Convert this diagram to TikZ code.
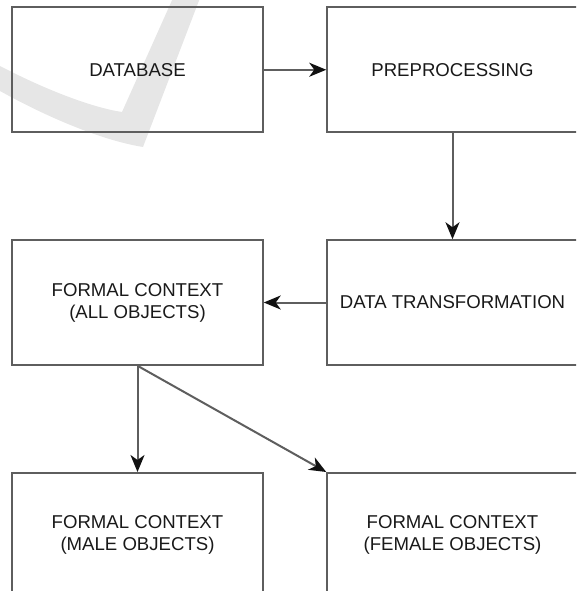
\documentclass[tikz,border=0pt]{standalone}
\usepackage{fontspec}
\setmainfont{Liberation Sans}
\usetikzlibrary{arrows.meta}
\definecolor{edge}{HTML}{5E5E5E}
\definecolor{tipcol}{HTML}{111111}
\definecolor{markgray}{HTML}{E6E6E6}
\begin{document}
\begin{tikzpicture}[x=1pt,y=-1pt,
  stage/.style={draw=edge, line width=2pt, minimum width=250.5pt,
    minimum height=124.5pt, inner sep=0pt, align=center,
    font=\fontsize{18.6}{22}\selectfont, text=black!90},
  flow/.style={draw=edge, line width=2pt,
    -{Stealth[length=17pt,width=14pt,inset=5pt,color=tipcol]}}]
\useasboundingbox (0,0) rectangle (576,591);
\clip (0,0) rectangle (576,591);

% light check-mark shape in the background
\fill[markgray] (0,66) .. controls (50,92) and (95,108) .. (122,112)
  -- (173,-2) -- (200,-2) -- (143,147)
  .. controls (100,140) and (45,116) .. (0,91) -- cycle;

% process stages
\node[stage] (db)     at (137.5,69.75)  {DATABASE};
\node[stage] (pre)    at (452.5,69.75)  {PREPROCESSING};
\node[stage] (fc)     at (137.5,302.5)  {FORMAL CONTEXT\\(ALL OBJECTS)};
\node[stage] (dt)     at (452.5,302.5)  {DATA TRANSFORMATION};
\node[stage] (male)   at (137.5,535.25) {FORMAL CONTEXT\\(MALE OBJECTS)};
\node[stage] (female) at (452.5,535.25) {FORMAL CONTEXT\\(FEMALE OBJECTS)};

% connections
\draw[flow] (db.east) -- (pre.west);
\draw[flow] (pre.south) -- (dt.north);
\draw[flow] (dt.west) -- (fc.east);
\draw[flow] (fc.south) -- (male.north);
\draw[flow] (fc.south) -- (female.north west);
\end{tikzpicture}
\end{document}
